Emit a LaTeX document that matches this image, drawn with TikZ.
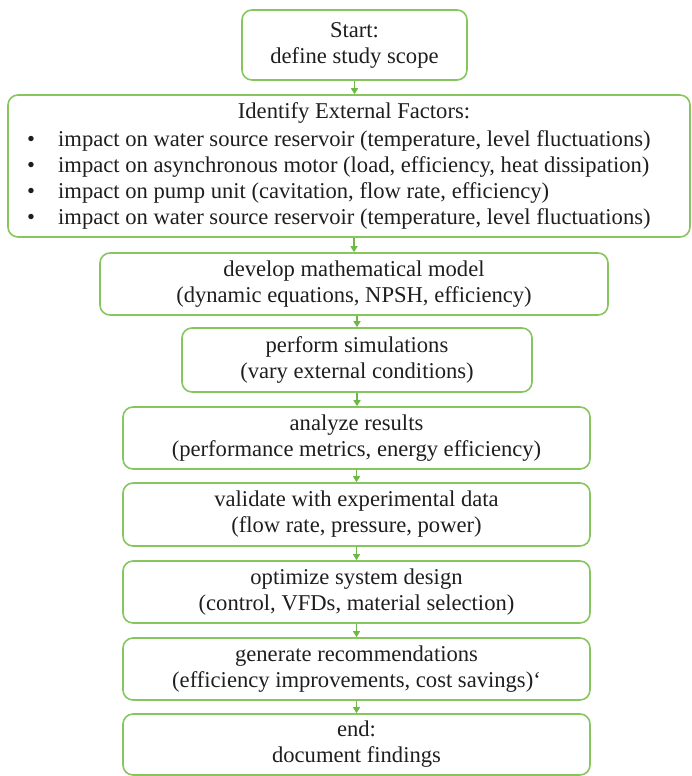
\documentclass[tikz,border=0pt]{standalone}
\usepackage{fontspec}
\setmainfont{Liberation Serif}
\usetikzlibrary{arrows.meta}
\definecolor{boxgreen}{RGB}{135,198,95}
\definecolor{arrgreen}{RGB}{110,185,70}
\definecolor{txt}{RGB}{30,30,30}
\tikzset{
  tfont/.style={font=\fontsize{22.6}{26}\selectfont},
  stepbox/.style={draw=boxgreen, line width=1.6pt, rounded corners=10pt, align=center,
    text=txt, tfont, inner sep=0pt},
  linetext/.style={text=txt, tfont, inner sep=0pt, anchor=west},
  flow/.style={draw=arrgreen, line width=1.3pt, -{Triangle[length=6pt,width=7pt]}},
}
\begin{document}
\begin{tikzpicture}[x=1pt,y=-1pt]
\useasboundingbox (0,0) rectangle (692,776);
\node[stepbox, minimum width=225pt, minimum height=70pt] (start) at (354.5,45) {Start:\\define study scope};
\node[stepbox, minimum width=682pt, minimum height=142pt] (ext) at (349,166) {};
\node[text=txt, tfont, inner sep=0pt] (exttitle) at (354,113) {Identify External Factors:};
\node[linetext] (b1) at (58,141) {impact on water source reservoir (temperature, level fluctuations)};
\node[linetext] (b2) at (58,167) {impact on asynchronous motor (load, efficiency, heat dissipation)};
\node[linetext] (b3) at (58,193) {impact on pump unit (cavitation, flow rate, efficiency)};
\node[linetext] (b4) at (58,219) {impact on water source reservoir (temperature, level fluctuations)};
\foreach \n in {b1,b2,b3,b4}{\node[text=txt, tfont, inner sep=0pt] (dot\n) at (31,0 |- \n.west) {\textbullet};}
\node[stepbox, minimum width=508pt, minimum height=62pt] (model) at (354,284) {develop mathematical model\\(dynamic equations, NPSH, efficiency)};
\node[stepbox, minimum width=350pt, minimum height=64pt] (sim) at (357,360) {perform simulations\\(vary external conditions)};
\node[stepbox, minimum width=467pt, minimum height=62pt] (ana) at (356.5,438) {analyze results\\(performance metrics, energy efficiency)};
\node[stepbox, minimum width=467pt, minimum height=63pt] (val) at (356.5,514.5) {validate with experimental data\\(flow rate, pressure, power)};
\node[stepbox, minimum width=467pt, minimum height=62pt] (opt) at (356.5,592) {optimize system design\\(control, VFDs, material selection)};
\node[stepbox, minimum width=467pt, minimum height=62pt] (gen) at (356.5,669) {generate recommendations\\(efficiency improvements, cost savings)`};
\node[stepbox, minimum width=467pt, minimum height=61pt] (fin) at (356.5,744.5) {end:\\document findings};
\draw[flow] (start.south) -- (start.south |- ext.north);
\draw[flow] (model.north |- ext.south) -- (model.north);
\draw[flow] (sim.north |- model.south) -- (sim.north);
\draw[flow] (sim.south) -- (sim.south |- ana.north);
\draw[flow] (ana.south) -- (val.north);
\draw[flow] (val.south) -- (opt.north);
\draw[flow] (opt.south) -- (gen.north);
\draw[flow] (gen.south) -- (fin.north);
\end{tikzpicture}
\end{document}
